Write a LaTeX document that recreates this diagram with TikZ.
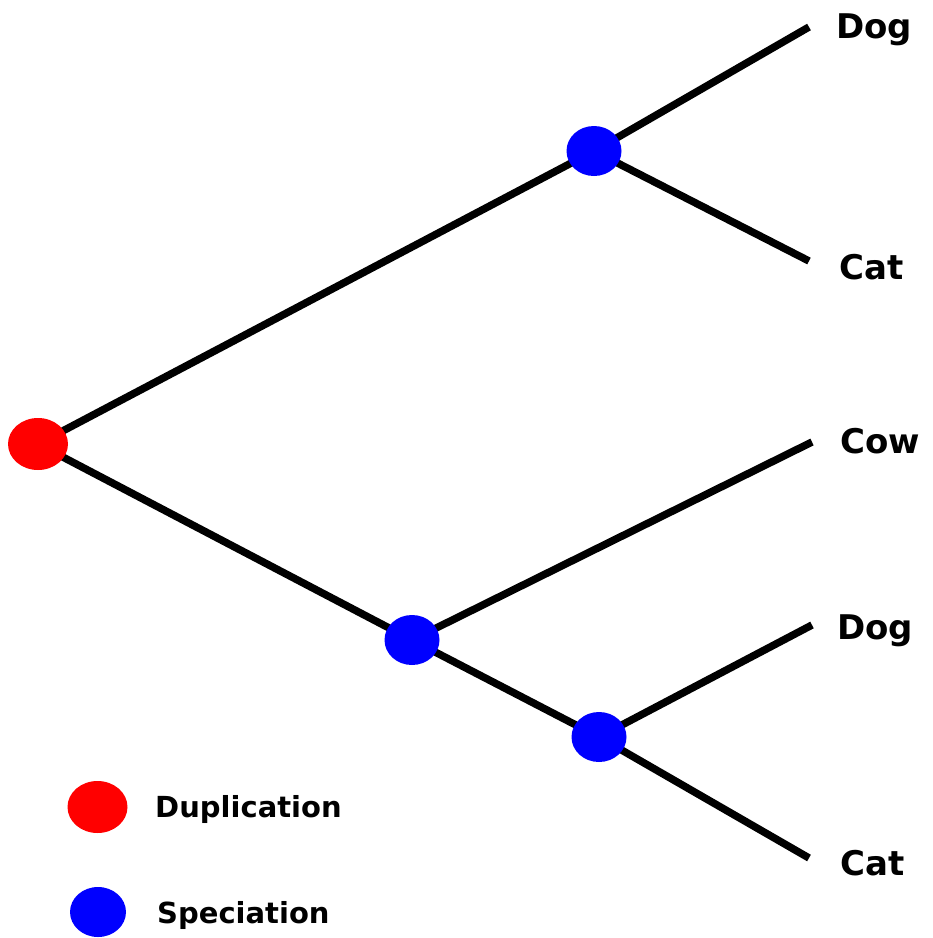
\documentclass[tikz,border=0pt]{standalone}
\usepackage{fontspec}
\setmainfont{DejaVu Sans}
\usetikzlibrary{backgrounds,shapes.geometric}
\begin{document}
\begin{tikzpicture}[x=1pt,y=-1pt,
  dup/.style={ellipse,fill=red,minimum width=60pt,minimum height=52pt,inner sep=0pt},
  spec/.style={ellipse,fill=blue,minimum width=55pt,minimum height=50pt,inner sep=0pt},
  branch/.style={line width=7.5pt,black},
  leaf/.style={anchor=base west,inner sep=0pt,font=\fontsize{34}{40}\selectfont\bfseries},
  legtext/.style={anchor=base west,inner sep=0pt,font=\fontsize{29}{34}\selectfont\bfseries}]
\useasboundingbox (0,0) rectangle (933,938);
% nodes
\node[dup] (root) at (38,444) {};
\node[spec] (s1) at (594,151) {};
\node[spec] (s2) at (412,640) {};
\node[spec] (s3) at (599,737) {};
\coordinate (e1) at (809,27);
\coordinate (e2) at (809,261);
\coordinate (e3) at (812,442);
\coordinate (e4) at (812,625);
\coordinate (e5) at (809,858);
% labels
\node[leaf] (l1) at (836,38) {Dog};
\node[leaf] (l2) at (839,279) {Cat};
\node[leaf] (l3) at (840,453) {Cow};
\node[leaf] (l4) at (837,639) {Dog};
\node[leaf] (l5) at (840,875) {Cat};
% legend
\node[dup] (ld) at (97.5,807) {};
\node[spec,minimum width=56pt] (ls) at (98,912) {};
\node[legtext] (td) at (155,817) {Duplication};
\node[legtext] (ts) at (157,923) {Speciation};
% branches
\begin{scope}[on background layer]
\draw[branch] (root.center) -- (s1.center);
\draw[branch] (root.center) -- (s2.center);
\draw[branch] (s1.center) -- (e1);
\draw[branch] (s1.center) -- (e2);
\draw[branch] (s2.center) -- (e3);
\draw[branch] (s2.center) -- (s3.center);
\draw[branch] (s3.center) -- (e4);
\draw[branch] (s3.center) -- (e5);
\end{scope}
\end{tikzpicture}
\end{document}
